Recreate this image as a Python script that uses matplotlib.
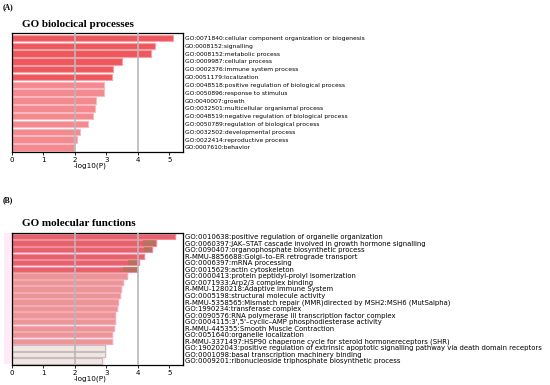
import matplotlib
matplotlib.use("Agg")
import matplotlib.pyplot as plt
import numpy as np

# ---------- data ----------
bp_terms = [
    "GO:0071840:cellular component organization or biogenesis",
    "GO:0008152:signalling",
    "GO:0008152:metabolic process",
    "GO:0009987:cellular process",
    "GO:0002376:immune system process",
    "GO:0051179:localization",
    "GO:0048518:positive regulation of biological process",
    "GO:0050896:response to stimulus",
    "GO:0040007:growth",
    "GO:0032501:multicellular organismal process",
    "GO:0048519:negative regulation of biological process",
    "GO:0050789:regulation of biological process",
    "GO:0032502:developmental process",
    "GO:0022414:reproductive process",
    "GO:0007610:behavior",
]
bp_values = [5.13, 4.56, 4.42, 3.49, 3.21, 3.17, 2.94, 2.94, 2.68, 2.66, 2.57, 2.41, 2.17, 2.07, 1.99]
bp_group = [0, 0, 0, 0, 0, 0, 1, 1, 1, 1, 1, 1, 1, 1, 1]

mf_terms = [
    "GO:0010638:positive regulation of organelle organization",
    "GO:0060397:JAK\u2013STAT cascade involved in growth hormone signalling",
    "GO:0090407:organophosphate biosynthetic process",
    "R-MMU-8856688:Golgi\u2013to\u2013ER retrograde transport",
    "GO:0006397:mRNA processing",
    "GO:0015629:actin cytoskeleton",
    "GO:0000413:protein peptidyl-prolyl isomerization",
    "GO:0071933:Arp2/3 complex binding",
    "R-MMU-1280218:Adaptive Immune System",
    "GO:0005198:structural molecule activity",
    "R-MMU-5358565:Mismatch repair (MMR)directed by MSH2:MSH6 (MutSalpha)",
    "GO:1990234:transferase complex",
    "GO:0090576:RNA polymerase III transcription factor complex",
    "GO:0004115:3',5'\u2013cyclic\u2013AMP phosphodiesterase activity",
    "R-MMU-445355:Smooth Muscle Contraction",
    "GO:0051640:organelle localization",
    "R-MMU-3371497:HSP90 chaperone cycle for steroid hormonereceptors (SHR)",
    "GO:190202043:positive regulation of extrinsic apoptotic signalling pathway via death domain receptors",
    "GO:0001098:basal transcription machinery binding",
    "GO:0009201:ribonucleoside triphosphate biosynthetic process",
]
mf_values = [5.17, 4.57, 4.44, 4.20, 4.03, 3.98, 3.66, 3.52, 3.46, 3.44, 3.38, 3.35, 3.28, 3.27,
             3.24, 3.19, 3.18, 2.97, 2.95, 2.88]
mf_group = [0, 0, 0, 0, 0, 0, 1, 1, 1, 1, 1, 1, 1, 1, 1, 1, 1, 2, 2, 2]
# start of the darker (olive-tinted) overlap seen at the end of some bars
mf_overlap_start = [np.nan, 4.17, 4.20, np.nan, 3.70, 3.55] + [np.nan] * 14

xticks = [0, 1, 2, 3, 4, 5]
grid_x = [2, 4]

# ---------- style ----------
bp_face = ["#EE585D", "#F4898F"]
bp_edge = ["#F7A0A6", "#F9B9BE"]
mf_face = ["#E4636A", "#EC9596", "#F1E6E4"]
mf_edge = ["#F48AA0", "#F5AAB8", "#C8BDBD"]

fig = plt.figure(figsize=(5.5, 3.85), dpi=100)
serif = ["Liberation Serif", "DejaVu Serif"]


def panel(rect, terms, values, group, faces, edges, title, letter, letter_y, label_fs,
          halo=False, overlap=None):
    ax = fig.add_axes(rect)
    y = np.arange(len(values))
    for gx in grid_x:
        ax.axvline(gx, color="#B8B8B8", lw=1.4, zorder=3, alpha=0.85)
    if halo:
        ax.barh(y, np.array(values) + 0.32, left=-0.25, height=1.0, color="#FFEAF7",
                edgecolor="none", zorder=1, clip_on=False)
    ax.barh(y, values, height=0.82, color=[faces[g] for g in group],
            edgecolor=[edges[g] for g in group], linewidth=0.8, zorder=2)
    if overlap is not None:
        for yi, (s, v) in enumerate(zip(overlap, values)):
            if not np.isnan(s):
                ax.barh(yi, v - s, left=s, height=0.82, color="#A8785A", alpha=0.7,
                        edgecolor="none", zorder=2.5)
    ax.set_ylim(len(values) - 0.45, -0.6)
    ax.set_xlim(0, 5.43)
    ax.set_xticks(xticks)
    ax.tick_params(axis="x", labelsize=5, length=2.5, width=0.6, pad=1.5)
    ax.yaxis.tick_right()
    ax.set_yticks(y)
    ax.set_yticklabels(terms, fontsize=label_fs)
    ax.tick_params(axis="y", length=0, pad=1.5)
    for s in ax.spines.values():
        s.set_linewidth(0.9)
    ax.set_xlabel("-log10(P)", fontsize=5.2, labelpad=0.5)
    ax.xaxis.set_label_coords(0.46, -0.095 if not halo else -0.085)
    top = rect[1] + rect[3]
    fig.text(22 / 550, top + 0.012, title, fontsize=8, fontweight="bold",
             family=serif, ha="left", va="bottom")
    fig.text(3 / 550, letter_y, letter, fontsize=5.5, fontweight="bold",
             family=serif, ha="left", va="center")
    return ax


axA = panel([11.7 / 550, 1 - 151.7 / 385, 171 / 550, 118.4 / 385], bp_terms, bp_values,
            bp_group, bp_face, bp_edge, "GO biolocical processes", "(A)", 1 - 7 / 385, 4.3)
axB = panel([11.7 / 550, 1 - 364.5 / 385, 171 / 550, 131.8 / 385], mf_terms, mf_values,
            mf_group, mf_face, mf_edge, "GO molecular functions", "(B)", 1 - 200 / 385, 4.95,
            halo=True, overlap=mf_overlap_start)

fig.savefig("out.png", dpi=100)
